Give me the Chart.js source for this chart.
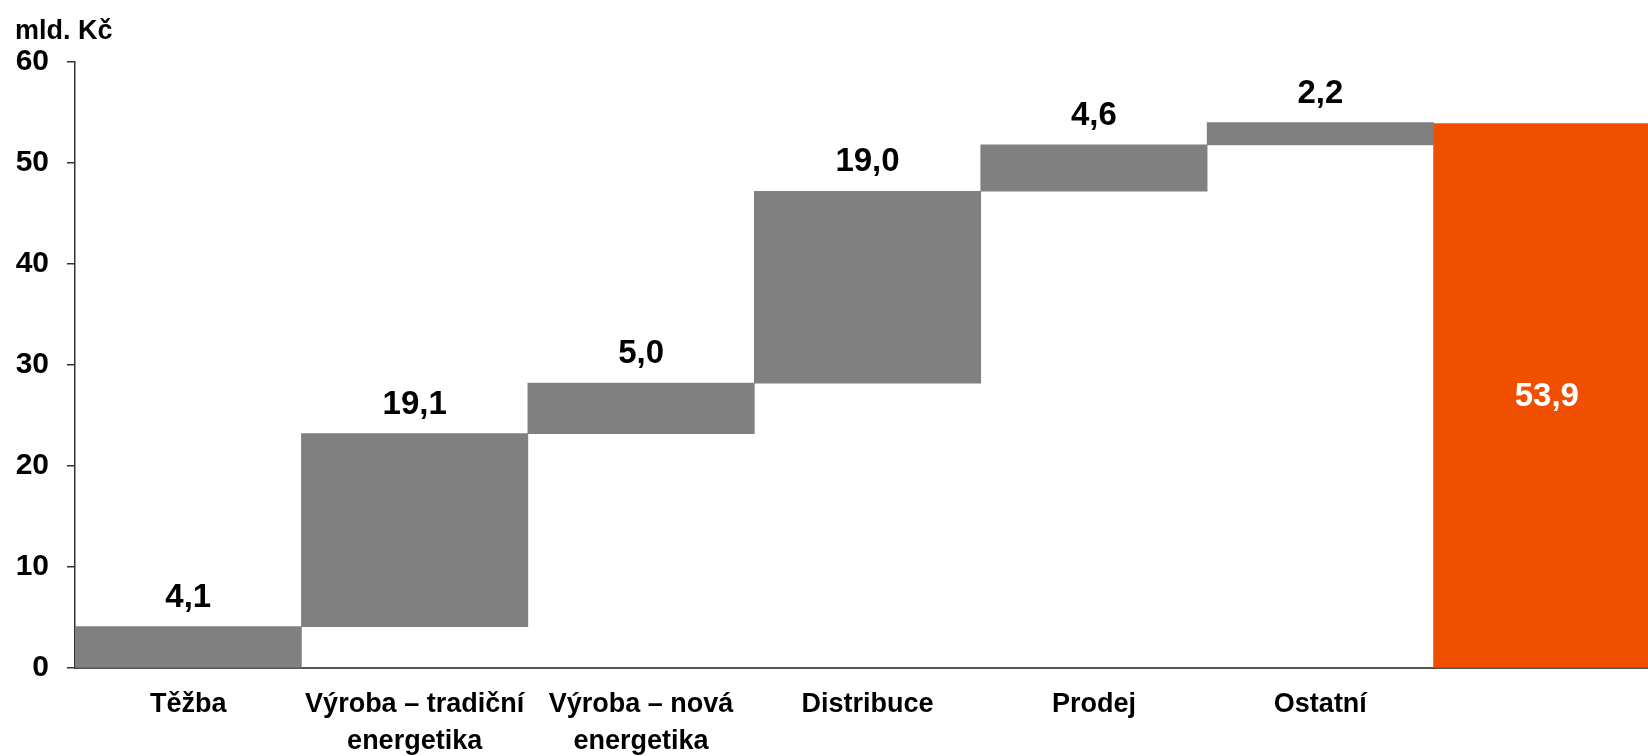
<!DOCTYPE html>
<html>
<head>
<meta charset="utf-8">
<script src="https://cdn.jsdelivr.net/npm/chart.js@4"></script>
<style>
  html, body { margin: 0; padding: 0; background: #fff; overflow: hidden; }
  #wrap { position: relative; width: 1648px; height: 756px; overflow: hidden; }
</style>
</head>
<body>
<div id="wrap">
  <canvas id="chart" width="1660" height="756"></canvas>
</div>
<script>
const categories = ['Těžba', ['Výroba – tradiční', 'energetika'], ['Výroba – nová', 'energetika'], 'Distribuce', 'Prodej', 'Ostatní', ''];
const steps = [4.1, 19.1, 5.0, 19.0, 4.6, 2.2];
const total = 53.9;
const yTicks = [0, 10, 20, 30, 40, 50, 60];
const unitLabel = 'mld. Kč';

const FONT = '"Liberation Sans", Arial, sans-serif';

// build floating bars from the steps
const ranges = [];
const labels = [];
let base = 0;
steps.forEach(v => {
    ranges.push([base, base + v]);
    labels.push(v.toFixed(1).replace('.', ','));
    base += v;
});
ranges.push([0, total]);
labels.push(total.toFixed(1).replace('.', ','));

const colors = steps.map(() => '#808080').concat(['#f04f00']);

const valueLabels = {
    id: 'valueLabels',
    afterDatasetsDraw(chart) {
        const ctx = chart.ctx;
        const meta = chart.getDatasetMeta(0);
        ctx.save();
        ctx.font = 'bold 33px ' + FONT;
        ctx.textAlign = 'center';
        meta.data.forEach((bar, i) => {
            if (i === meta.data.length - 1) {
                ctx.fillStyle = '#ffffff';
                ctx.textBaseline = 'middle';
                ctx.fillText(labels[i], bar.x, (bar.y + bar.base) / 2 + 1);
            } else {
                ctx.fillStyle = '#000000';
                ctx.textBaseline = 'alphabetic';
                ctx.fillText(labels[i], bar.x, bar.y - 20);
            }
        });
        // unit caption in the top-left corner
        ctx.font = 'bold 27px ' + FONT;
        ctx.textAlign = 'left';
        ctx.fillStyle = '#000000';
        ctx.fillText(unitLabel, 15, 32);
        ctx.restore();
    }
};

new Chart(document.getElementById('chart'), {
    type: 'bar',
    data: {
        labels: categories,
        datasets: [{
            data: ranges,
            backgroundColor: colors,
            borderWidth: 0,
            barPercentage: 1,
            categoryPercentage: 1
        }]
    },
    options: {
        responsive: false,
        animation: false,
        layout: { padding: { top: 62, right: 0, bottom: 0, left: 0 } },
        plugins: { legend: { display: false }, tooltip: { enabled: false } },
        scales: {
            x: {
                afterFit(scale) { scale.height = 88; },
                grid: { display: false, drawTicks: false },
                border: { display: true, color: '#555', width: 2 },
                ticks: {
                    color: '#000',
                    font: { family: FONT, size: 27, weight: 'bold', lineHeight: 1.37 },
                    padding: 18,
                    maxRotation: 0,
                    autoSkip: false
                }
            },
            y: {
                min: 0,
                max: 60,
                afterFit(scale) { scale.width = 75; },
                afterBuildTicks(scale) { scale.ticks = yTicks.map(v => ({ value: v })); },
                grid: { drawOnChartArea: false, drawTicks: true, tickLength: 8, color: '#333', lineWidth: 1.5 },
                border: { display: true, color: '#333', width: 1.5 },
                ticks: {
                    color: '#000',
                    font: { family: FONT, size: 30, weight: 'bold' },
                    padding: 18
                }
            }
        }
    },
    plugins: [valueLabels]
});
</script>
</body>
</html>
